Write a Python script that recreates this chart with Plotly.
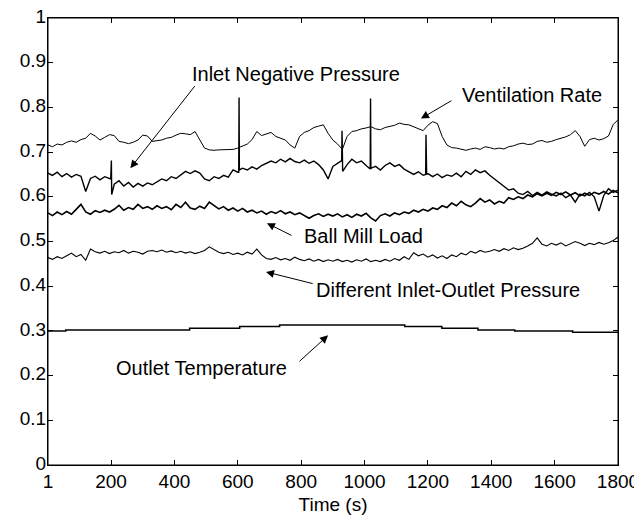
import plotly.graph_objects as go

# ---------------- data ----------------
time = [1] + [15 * i for i in range(1, 121)]

ventilation_rate = [
    0.716, 0.712, 0.718, 0.716, 0.722, 0.725, 0.722, 0.728, 0.731, 0.742,
    0.736, 0.727, 0.733, 0.739, 0.737, 0.724, 0.722, 0.719, 0.722, 0.727,
    0.738, 0.736, 0.724, 0.726, 0.727, 0.731, 0.733, 0.738, 0.742, 0.741,
    0.739, 0.746, 0.728, 0.709, 0.705, 0.704, 0.705, 0.705, 0.706, 0.706,
    0.709, 0.713, 0.718, 0.728, 0.746, 0.737, 0.740, 0.744, 0.735, 0.731,
    0.727, 0.716, 0.709, 0.735, 0.744, 0.748, 0.755, 0.758, 0.761, 0.742,
    0.727, 0.718, 0.706, 0.735, 0.746, 0.748, 0.752, 0.754, 0.757, 0.752,
    0.750, 0.755, 0.757, 0.760, 0.765, 0.762, 0.761, 0.757, 0.753, 0.748,
    0.760, 0.768, 0.764, 0.735, 0.716, 0.710, 0.709, 0.706, 0.704, 0.707,
    0.709, 0.706, 0.712, 0.710, 0.707, 0.709, 0.707, 0.712, 0.714, 0.718,
    0.720, 0.717, 0.718, 0.724, 0.726, 0.722, 0.724, 0.728, 0.731, 0.734,
    0.739, 0.748, 0.735, 0.713, 0.728, 0.731, 0.727, 0.730, 0.736, 0.762,
    0.772,
]

inlet_negative_pressure = [
    0.653, 0.648, 0.655, 0.645, 0.652, 0.644, 0.650, 0.646, 0.612, 0.641,
    0.646, 0.638, 0.645, 0.640, 0.628, 0.636, 0.624, 0.632, 0.622, 0.630,
    0.624, 0.631, 0.627, 0.633, 0.640, 0.636, 0.645, 0.641, 0.650, 0.657,
    0.652, 0.658, 0.653, 0.640, 0.636, 0.645, 0.641, 0.648, 0.644, 0.660,
    0.655, 0.664, 0.660, 0.667, 0.662, 0.670, 0.675, 0.680, 0.676, 0.684,
    0.678, 0.686, 0.679, 0.676, 0.682, 0.675, 0.680, 0.672, 0.660, 0.640,
    0.668, 0.676, 0.681, 0.672, 0.684, 0.676, 0.680, 0.670, 0.662, 0.668,
    0.660, 0.670, 0.676, 0.668, 0.672, 0.662, 0.655, 0.650, 0.656, 0.648,
    0.652, 0.645, 0.651, 0.643, 0.649, 0.646, 0.653, 0.645, 0.657, 0.650,
    0.660, 0.654, 0.658, 0.648, 0.640, 0.630, 0.622, 0.615, 0.618, 0.608,
    0.605, 0.612, 0.603, 0.610, 0.604, 0.611, 0.606, 0.602, 0.608, 0.598,
    0.604, 0.588, 0.606, 0.602, 0.610, 0.600, 0.568, 0.603, 0.618, 0.610,
    0.615,
]
# isolated single-sample spikes of the inlet negative pressure signal
inlet_spike_time = [199, 201, 202, 603, 604, 605, 928, 929, 931, 1018, 1019, 1021, 1193, 1194, 1196]
inlet_spike_value = [0.640, 0.681, 0.605, 0.655, 0.822, 0.660, 0.681, 0.748, 0.657,
                     0.662, 0.820, 0.664, 0.650, 0.739, 0.650]

ball_mill_load = [
    0.564, 0.558, 0.566, 0.560, 0.567, 0.561, 0.572, 0.583, 0.566, 0.561,
    0.569, 0.565, 0.570, 0.566, 0.572, 0.581, 0.570, 0.576, 0.572, 0.583,
    0.574, 0.578, 0.572, 0.580, 0.574, 0.578, 0.571, 0.583, 0.576, 0.588,
    0.575, 0.572, 0.579, 0.574, 0.588, 0.580, 0.573, 0.578, 0.570, 0.575,
    0.568, 0.574, 0.566, 0.570, 0.564, 0.568, 0.561, 0.567, 0.563, 0.569,
    0.562, 0.566, 0.560, 0.564, 0.558, 0.552, 0.558, 0.562, 0.556, 0.561,
    0.557, 0.562, 0.555, 0.560, 0.554, 0.561, 0.557, 0.563, 0.553, 0.546,
    0.558, 0.562, 0.557, 0.564, 0.560, 0.566, 0.563, 0.570, 0.566, 0.572,
    0.568, 0.575, 0.572, 0.580, 0.576, 0.586, 0.580, 0.590, 0.582, 0.578,
    0.586, 0.596, 0.588, 0.593, 0.584, 0.590, 0.586, 0.598, 0.594, 0.600,
    0.596, 0.604, 0.600, 0.607, 0.602, 0.608, 0.603, 0.610, 0.605, 0.611,
    0.604, 0.609, 0.602, 0.608, 0.603, 0.610, 0.606, 0.612, 0.606, 0.614,
    0.609,
]

diff_inlet_outlet_pressure = [
    0.464, 0.460, 0.466, 0.462, 0.468, 0.474, 0.466, 0.471, 0.458, 0.483,
    0.477, 0.474, 0.478, 0.473, 0.477, 0.475, 0.480, 0.474, 0.478, 0.476,
    0.472, 0.478, 0.480, 0.477, 0.481, 0.476, 0.479, 0.475, 0.478, 0.474,
    0.477, 0.473, 0.476, 0.480, 0.488, 0.482, 0.476, 0.473, 0.476, 0.471,
    0.474, 0.470, 0.476, 0.472, 0.483, 0.470, 0.462, 0.460, 0.464, 0.459,
    0.462, 0.458, 0.465, 0.460, 0.457, 0.461, 0.456, 0.460, 0.455, 0.459,
    0.456, 0.460, 0.455, 0.458, 0.454, 0.459, 0.456, 0.461, 0.455, 0.458,
    0.455, 0.460, 0.456, 0.462, 0.458, 0.466, 0.460, 0.475, 0.468, 0.472,
    0.465, 0.470, 0.463, 0.468, 0.462, 0.470, 0.466, 0.474, 0.470, 0.478,
    0.474, 0.480, 0.476, 0.478, 0.482, 0.478, 0.484, 0.480, 0.486, 0.482,
    0.485, 0.490, 0.496, 0.508, 0.494, 0.490, 0.496, 0.492, 0.497, 0.490,
    0.495, 0.500, 0.496, 0.491, 0.496, 0.493, 0.498, 0.494, 0.497, 0.502,
    0.510,
]

outlet_time = [1, 57, 448, 606, 732, 1127, 1244, 1358, 1474, 1657, 1800]
outlet_temperature = [0.300, 0.302, 0.306, 0.310, 0.313, 0.310, 0.306, 0.302, 0.300, 0.297, 0.297]

x_tick_values = [1, 200, 400, 600, 800, 1000, 1200, 1400, 1600, 1800]
x_tick_labels = ["1", "200", "400", "600", "800", "1000", "1200", "1400", "1600", "1800"]
y_tick_values = [0, 0.1, 0.2, 0.3, 0.4, 0.5, 0.6, 0.7, 0.8, 0.9, 1]
y_tick_labels = ["0", "0.1", "0.2", "0.3", "0.4", "0.5", "0.6", "0.7", "0.8", "0.9", "1"]

# annotation labels: text, text position, arrow head, arrow tail
labels = ["Inlet Negative Pressure", "Ventilation Rate", "Ball Mill Load",
          "Different Inlet-Outlet Pressure", "Outlet Temperature"]
label_x = [784, 1529, 998, 1263, 484]
label_y = [0.875, 0.828, 0.512, 0.392, 0.218]
head_x = [261, 1178, 692, 689, 885]
head_y = [0.664, 0.775, 0.541, 0.432, 0.290]
tail_x = [468, 1279, 774, 841, 790]
tail_y = [0.851, 0.817, 0.512, 0.405, 0.229]

# ---------------- figure ----------------
FONT = "Liberation Sans, Arial, Helvetica, sans-serif"

inlet_pairs = sorted(zip(time + inlet_spike_time, inlet_negative_pressure + inlet_spike_value))
inlet_t = [p[0] for p in inlet_pairs]
inlet_v = [p[1] for p in inlet_pairs]

fig = go.Figure()
fig.add_trace(go.Scatter(x=time, y=ventilation_rate, mode="lines",
                         line=dict(color="black", width=1), name="Ventilation Rate"))
fig.add_trace(go.Scatter(x=inlet_t, y=inlet_v, mode="lines",
                         line=dict(color="black", width=1.4), name="Inlet Negative Pressure"))
fig.add_trace(go.Scatter(x=time, y=ball_mill_load, mode="lines",
                         line=dict(color="black", width=1.6), name="Ball Mill Load"))
fig.add_trace(go.Scatter(x=time, y=diff_inlet_outlet_pressure, mode="lines",
                         line=dict(color="black", width=1.1), name="Different Inlet-Outlet Pressure"))
fig.add_trace(go.Scatter(x=outlet_time, y=outlet_temperature, mode="lines",
                         line=dict(color="black", width=1.5, shape="hv"), name="Outlet Temperature"))

annotations = []
for i in range(len(labels)):
    annotations.append(dict(
        x=label_x[i], y=label_y[i], xref="x", yref="y", text=labels[i],
        showarrow=False, font=dict(family=FONT, size=20, color="black"),
        xanchor="center", yanchor="middle"))
    annotations.append(dict(
        x=head_x[i], y=head_y[i], ax=tail_x[i], ay=tail_y[i],
        xref="x", yref="y", axref="x", ayref="y", text="",
        showarrow=True, arrowhead=2, arrowsize=1.6, arrowwidth=1, arrowcolor="black"))

# the page body adds an 8px offset, so the figure is sized to fit the window
fig.update_layout(
    width=634, height=507,
    margin=dict(l=40, r=24, t=10, b=50),
    paper_bgcolor="white", plot_bgcolor="white",
    showlegend=False,
    font=dict(family=FONT, size=19, color="black"),
    annotations=annotations,
    shapes=[dict(type="rect", xref="paper", yref="paper", x0=0, y0=0, x1=1, y1=1,
                 line=dict(color="black", width=1), layer="above")],
)
fig.update_xaxes(
    range=[1, 1800], tickvals=x_tick_values, ticktext=x_tick_labels,
    showgrid=False, zeroline=False, showline=True, linecolor="black", linewidth=1,
    mirror="ticks", ticks="inside", ticklen=5, tickcolor="black", automargin=False,
    ticklabelstandoff=-1, ticklabeloverflow="allow",
    tickfont=dict(family=FONT, size=19, color="black"),
    title=dict(text="Time (s)", font=dict(family=FONT, size=19, color="black")),
)
fig.update_yaxes(
    range=[0, 1], tickvals=y_tick_values, ticktext=y_tick_labels,
    showgrid=False, zeroline=False, showline=True, linecolor="black", linewidth=1,
    mirror="ticks", ticks="inside", ticklen=5, tickcolor="black", automargin=False,
    ticklabelstandoff=-3, ticklabelshift=-2, ticklabeloverflow="allow",
    tickfont=dict(family=FONT, size=19, color="black"),
)

fig.write_html("out.html")
